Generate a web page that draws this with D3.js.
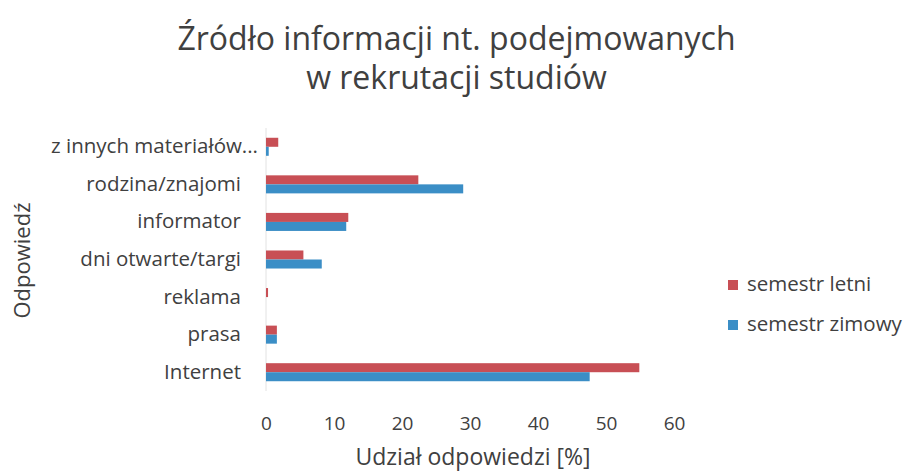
<!DOCTYPE html>
<html>
<head>
<meta charset="utf-8">
<script src="https://cdn.jsdelivr.net/npm/d3@7"></script>
<style>
    html, body { margin: 0; padding: 0; background: #fff; }
    #chart { width: 907px; height: 474px; }
</style>
</head>
<body>
<div id="chart"></div>
<script>
// Data (percent of answers).
var categories = [
    'z innych materiałów...',
    'rodzina/znajomi',
    'informator',
    'dni otwarte/targi',
    'reklama',
    'prasa',
    'Internet'
];
var seriesNames = ['semestr letni', 'semestr zimowy'];
var letni  = [1.8, 22.4, 12.1, 5.5, 0.3, 1.6, 54.9];
var zimowy = [0.4, 29.0, 11.8, 8.2, 0.0, 1.6, 47.6];
var xTickValues = [0, 10, 20, 30, 40, 50, 60];
var titleLines = ['Źródło informacji nt. podejmowanych', 'w rekrutacji studiów'];
var xTitle = 'Udział odpowiedzi [%]';
var yTitle = 'Odpowiedź';

var C = {
    letni: '#c84f55',
    zimowy: '#3b8ec6',
    text: '#404040',
    axis: '#e2e2e2'
};
var FONT = "'Open Sans', 'Noto Sans', sans-serif";

var W = 907, H = 474;
var plot = { left: 266, right: 674, top: 128, bottom: 391 };

var svg = d3.select('#chart').append('svg')
    .attr('width', W).attr('height', H)
    .attr('viewBox', '0 0 ' + W + ' ' + H)
    .style('font-family', FONT);

var x = d3.scaleLinear().domain([0, 60]).range([plot.left, plot.right]);
var y = d3.scaleBand().domain(categories)
    .range([plot.top, plot.bottom])
    .paddingInner(0.52).paddingOuter(0.26);
var ySub = d3.scaleBand().domain(seriesNames).range([0, y.bandwidth()]);
var color = d3.scaleOrdinal().domain(seriesNames).range([C.letni, C.zimowy]);

var rows = categories.map(function (c, i) {
    return { cat: c, values: [
        { key: seriesNames[0], v: letni[i] },
        { key: seriesNames[1], v: zimowy[i] }
    ] };
});

// Title, two lines
svg.append('text')
    .attr('x', W / 2 + 3).attr('y', 50)
    .attr('text-anchor', 'middle')
    .attr('font-size', 32).attr('fill', C.text)
    .selectAll('tspan').data(titleLines).join('tspan')
    .attr('x', W / 2 + 3)
    .attr('dy', function (d, i) { return i === 0 ? 0 : 39; })
    .text(function (d) { return d; });

// Vertical category axis line (faint)
svg.append('line')
    .attr('x1', x(0)).attr('x2', x(0))
    .attr('y1', plot.top).attr('y2', plot.bottom)
    .attr('stroke', C.axis).attr('stroke-width', 1);

// Bars
svg.append('g').selectAll('g').data(rows).join('g')
    .attr('transform', function (d) { return 'translate(0,' + y(d.cat) + ')'; })
    .selectAll('rect').data(function (d) { return d.values; }).join('rect')
    .attr('x', x(0))
    .attr('y', function (d) { return ySub(d.key); })
    .attr('width', function (d) { return x(d.v) - x(0); })
    .attr('height', ySub.bandwidth())
    .attr('fill', function (d) { return color(d.key); });

// Y axis labels
var yAxis = d3.axisLeft(y).tickSize(0).tickPadding(25);
var yg = svg.append('g').attr('transform', 'translate(' + x(0) + ',0)').call(yAxis);
yg.select('.domain').remove();
yg.selectAll('text')
    .attr('fill', C.text).attr('font-size', 20.5).attr('font-family', FONT)
    .attr('dx', function (d, i) { return i === 0 ? 17 : 0; });

// X axis labels
var xAxis = d3.axisBottom(x).tickValues(xTickValues).tickSize(0).tickPadding(0)
    .tickFormat(d3.format('d'));
var xg = svg.append('g').attr('transform', 'translate(0,' + 416 + ')').call(xAxis);
xg.select('.domain').remove();
xg.selectAll('text')
    .attr('fill', C.text).attr('font-size', 19).attr('font-family', FONT)
    .attr('dy', '0.71em');

// Axis titles
svg.append('text')
    .attr('x', x(30) + 3).attr('y', 465)
    .attr('text-anchor', 'middle')
    .attr('font-size', 23).attr('fill', C.text)
    .text(xTitle);
svg.append('text')
    .attr('transform', 'translate(30,' + ((plot.top + plot.bottom) / 2 + 1) + ') rotate(-90)')
    .attr('text-anchor', 'middle')
    .attr('font-size', 22).attr('fill', C.text)
    .text(yTitle);

// Legend
var legend = svg.append('g').attr('transform', 'translate(728,280)')
    .selectAll('g').data(seriesNames).join('g')
    .attr('transform', function (d, i) { return 'translate(0,' + i * 40 + ')'; });
legend.append('rect')
    .attr('width', 10).attr('height', 10)
    .attr('fill', function (d) { return color(d); });
legend.append('text')
    .attr('x', 19).attr('y', 11)
    .attr('font-size', 20.5).attr('fill', C.text)
    .text(function (d) { return d; });
</script>
</body>
</html>
